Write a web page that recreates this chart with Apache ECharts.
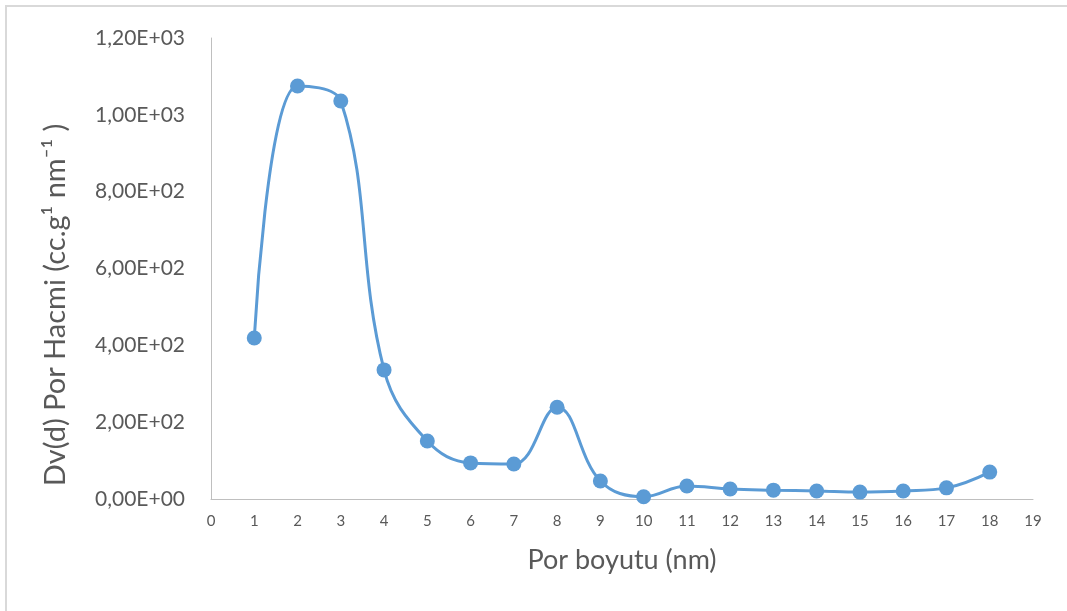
<!DOCTYPE html>
<html>
<head>
<meta charset="utf-8">
<script src="https://cdn.jsdelivr.net/npm/echarts@6/dist/echarts.min.js"></script>
<style>html,body{margin:0;padding:0;background:#fff;}#c{width:1067px;height:611px;}</style>
</head>
<body>
<div id="c"></div>
<script>
const poreSizes = [1,2,3,4,5,6,7,8,9,10,11,12,13,14,15,16,17,18];
const dvValues = [419,1075,1036,336,151,94,91,239,47,6,34,26,23,21,18,21,29,70];
const xTitle = 'Por boyutu (nm)';
const yTitle = 'Dv(d) Por Hacmi (cc.g¹ nm⁻¹ )';

function sci(v){
  if (v === 0) return '0,00E+00';
  const e = Math.floor(Math.log10(v));
  const m = v / Math.pow(10, e);
  return m.toFixed(2).replace('.', ',') + 'E+' + String(e).padStart(2,'0');
}
const chart = echarts.init(document.getElementById('c'), null, {renderer:'canvas'});
const font = 'Lato';
chart.setOption({
  animation:false,
  backgroundColor:'#fff',
  graphic:[
    {type:'rect', shape:{x:6,y:6,width:1100,height:700}, style:{fill:'none', stroke:'#D9D9D9', lineWidth:2}},
    {type:'text', x:56, y:305, rotation:Math.PI/2,
     style:{text:yTitle, fontFamily:font, fontSize:29, fill:'#595959', align:'center', verticalAlign:'middle'}}
  ],
  grid:{left:211, right:34, top:38, bottom:112},
  xAxis:{
    type:'value', min:0, max:19, interval:1,
    name:xTitle, nameLocation:'middle', nameGap:48,
    nameTextStyle:{fontFamily:font, fontSize:27, color:'#595959'},
    axisLine:{show:true, lineStyle:{color:'#BFBFBF', width:1}},
    axisTick:{show:false}, splitLine:{show:false},
    axisLabel:{fontFamily:font, fontSize:15, color:'#595959', margin:15}
  },
  yAxis:{
    type:'value', min:0, max:1200, interval:200,
    axisLine:{show:true, lineStyle:{color:'#BFBFBF', width:1}},
    axisTick:{show:false}, splitLine:{show:false},
    axisLabel:{fontFamily:font, fontSize:21, color:'#595959', margin:26, formatter:sci}
  },
  series:[{
    type:'line', smooth:0.4,
    data: poreSizes.map((x,i)=>[x, dvValues[i]]),
    symbol:'circle', symbolSize:15,
    lineStyle:{color:'#5B9BD5', width:3},
    itemStyle:{color:'#5B9BD5'}
  }]
});
</script>
</body>
</html>
